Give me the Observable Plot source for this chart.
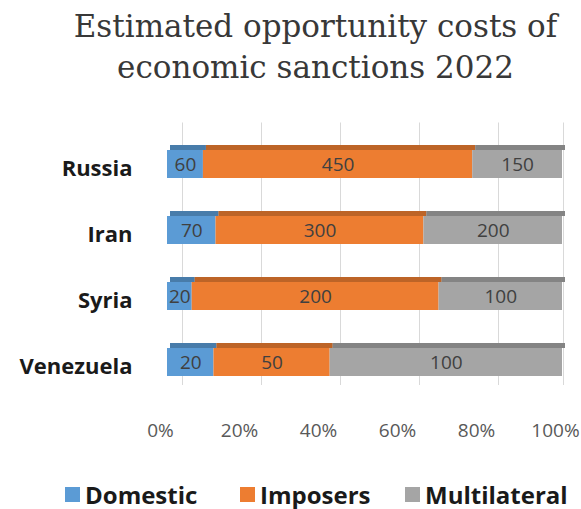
<!DOCTYPE html>
<html>
<head>
<meta charset="utf-8">
<script src="https://cdn.jsdelivr.net/npm/d3@7"></script>
<script src="https://cdn.jsdelivr.net/npm/@observablehq/plot@0.6"></script>
<style>
  html, body { margin: 0; padding: 0; background: #fff; }
  #wrap { position: relative; width: 581px; height: 509px; overflow: hidden; font-family: "Open Sans", sans-serif; }
  #title { position: absolute; left: 50px; top: 6px; width: 531px; text-align: center;
           font-family: "DejaVu Serif", serif; font-size: 31px; line-height: 41px; color: #383838; }
  #chart { position: absolute; left: 0; top: 0; }
  #legend { position: absolute; left: 0; top: 479px; width: 581px; height: 32px; }
  .item { position: absolute; top: 0; display: flex; align-items: center; height: 30px;
          font-weight: bold; font-size: 24px; color: #1a1a1a; }
  .sw { width: 15px; height: 15px; margin-right: 5px; }
</style>
</head>
<body>
<div id="wrap">
  <div id="chart"></div>
  <div id="title">Estimated opportunity costs of<br>economic sanctions 2022</div>
  <div id="legend"></div>
</div>
<script>
const countries = ["Russia", "Iran", "Syria", "Venezuela"];
const series = ["Domestic", "Imposers", "Multilateral"];
const domestic = [60, 70, 20, 20];
const imposers = [450, 300, 200, 50];
const multilateral = [150, 200, 100, 100];
const colors = ["#5B9BD5", "#ED7D31", "#A5A5A5"];
const xTicks = [0, 0.2, 0.4, 0.6, 0.8, 1];
const tickLabels = ["0%", "20%", "40%", "60%", "80%", "100%"];

const valuesBySeries = [domestic, imposers, multilateral];
const rows = [];
countries.forEach((c, i) => {
  series.forEach((s, j) => rows.push({country: c, series: s, value: valuesBySeries[j][i]}));
});

const stackOpts = (extra) => Plot.stackX({offset: "normalize", x: "value", y: "country", z: "series", ...extra});

const chart = Plot.plot({
  width: 581,
  height: 509,
  marginLeft: 167,
  marginRight: 19,
  marginTop: 110.5,
  marginBottom: 99,
  style: {fontFamily: "Open Sans", background: "transparent"},
  x: {domain: [0, 1], axis: null, label: null},
  y: {domain: countries, padding: 0.504, axis: null, label: null},
  color: {domain: series, range: colors},
  marks: [
    Plot.ruleX(xTicks.slice(0, 5), {stroke: "#d9d9d9", dx: 15, insetTop: 12, insetBottom: 25}),
    Plot.ruleX(xTicks.slice(5), {stroke: "#d9d9d9", dx: 1, insetTop: 12, insetBottom: 25}),
    Plot.ruleX(countries, {x: 1, y: d => d, stroke: "#7b7b7b", strokeWidth: 8, dx: 4, insetBottom: 2}),
    Plot.barX(rows, stackOpts({fill: "series", insetBottom: 28, dx: 3})),
    Plot.barX(rows, stackOpts({fill: "#000", fillOpacity: 0.2, insetBottom: 28, dx: 3})),
    Plot.barX(rows, stackOpts({fill: "series", insetTop: 5})),
    Plot.text(rows, stackOpts({text: d => String(d.value), fill: "#404040", fontSize: 19, dy: 2.5})),
    Plot.axisX(xTicks, {tickFormat: (d, i) => tickLabels[i], tickSize: 0, tickPadding: 13, dx: -7,
      fontSize: 19, fill: "#595959", anchor: "bottom", label: null}),
    Plot.axisY(countries, {tickSize: 0, tickPadding: 35, dy: 7, fontSize: 22, fontWeight: "bold",
      fill: "#1a1a1a", anchor: "left", label: null})
  ]
});
document.getElementById("chart").appendChild(chart);

const legendPos = [65, 240, 405];
const legend = document.getElementById("legend");
series.forEach((s, i) => {
  const item = document.createElement("div");
  item.className = "item";
  item.style.left = legendPos[i] + "px";
  const sw = document.createElement("div");
  sw.className = "sw";
  sw.style.background = colors[i];
  const t = document.createElement("span");
  t.textContent = s;
  item.appendChild(sw);
  item.appendChild(t);
  legend.appendChild(item);
});
</script>
</body>
</html>
